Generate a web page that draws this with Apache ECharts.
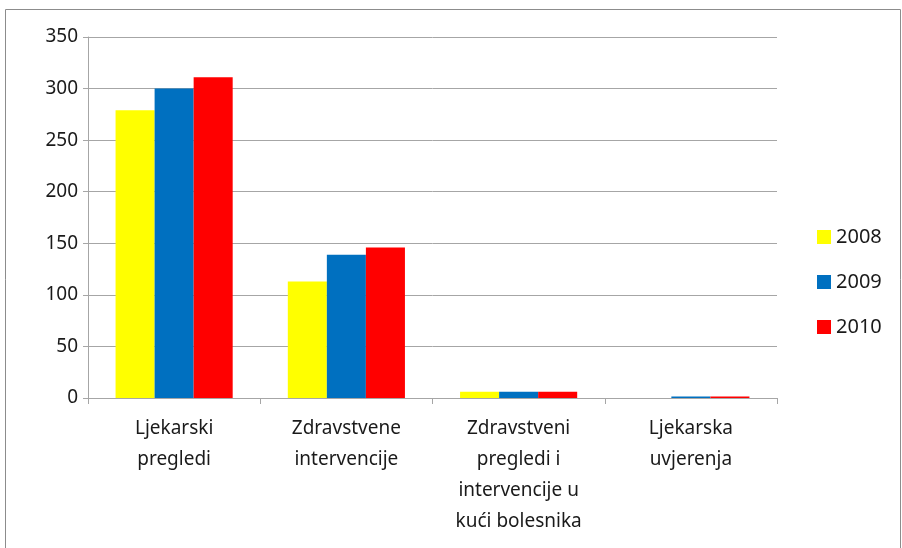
<!doctype html>
<html>
<head>
<meta charset="utf-8">
<title>Ljekarski pregledi</title>
<style>
	html,body{height:100%;padding:0;margin:0;background:#fff;}
</style>
</head>
<body>
<div style="width:902px;height:548px;" id="chart"></div>
<script src="https://cdn.jsdelivr.net/npm/echarts@6/dist/echarts.min.js"></script>
<script>
var categories = ['Ljekarski\npregledi', 'Zdravstvene\nintervencije', 'Zdravstveni\npregledi i\nintervencije u\nkući bolesnika', 'Ljekarska\nuvjerenja'];
var years = ['2008', '2009', '2010'];
var v2008 = [279, 113, 6, 0];
var v2009 = [300, 139, 6, 1.5];
var v2010 = [311, 146, 6, 1.5];
var colors = ['#ffff00', '#0070c0', '#ff0000'];

var myChart = echarts.init(document.getElementById('chart'));
var font = 'Noto Sans';
var option = {
	animation: false,
	graphic: [{
		type: 'rect',
		shape: {x: 5.5, y: 9.5, width: 895, height: 545},
		style: {fill: 'none', stroke: '#8c8c8c', lineWidth: 1}
	}],
	legend: {
		orient: 'vertical',
		left: 812,
		top: 222,
		itemWidth: 14,
		itemHeight: 14,
		itemGap: 25,
		icon: 'rect',
		textStyle: {fontFamily: font, fontSize: 20, color: '#1a1a1a'},
		data: years
	},
	grid: {left: 88, right: 125, top: 37, bottom: 150},
	xAxis: {
		type: 'category',
		data: categories,
		axisLine: {lineStyle: {color: '#a6a6a6'}},
		axisTick: {show: true, length: 6, lineStyle: {color: '#a6a6a6'}},
		axisLabel: {fontFamily: font, fontSize: 19, color: '#1a1a1a', lineHeight: 31, margin: 15, interval: 0}
	},
	yAxis: {
		type: 'value',
		min: 0,
		max: 350,
		interval: 50,
		axisLine: {show: true, lineStyle: {color: '#a6a6a6'}},
		axisTick: {show: true, length: 5, lineStyle: {color: '#a6a6a6'}},
		splitLine: {lineStyle: {color: '#a6a6a6', width: 1}},
		axisLabel: {fontFamily: font, fontSize: 19, color: '#1a1a1a', margin: 10}
	},
	series: [
		{name: years[0], type: 'bar', data: v2008, itemStyle: {color: colors[0]}, barGap: '0%', barCategoryGap: '32%'},
		{name: years[1], type: 'bar', data: v2009, itemStyle: {color: colors[1]}, barGap: '0%', barCategoryGap: '32%'},
		{name: years[2], type: 'bar', data: v2010, itemStyle: {color: colors[2]}, barGap: '0%', barCategoryGap: '32%'}
	]
};
myChart.setOption(option);
</script>
</body>
</html>
